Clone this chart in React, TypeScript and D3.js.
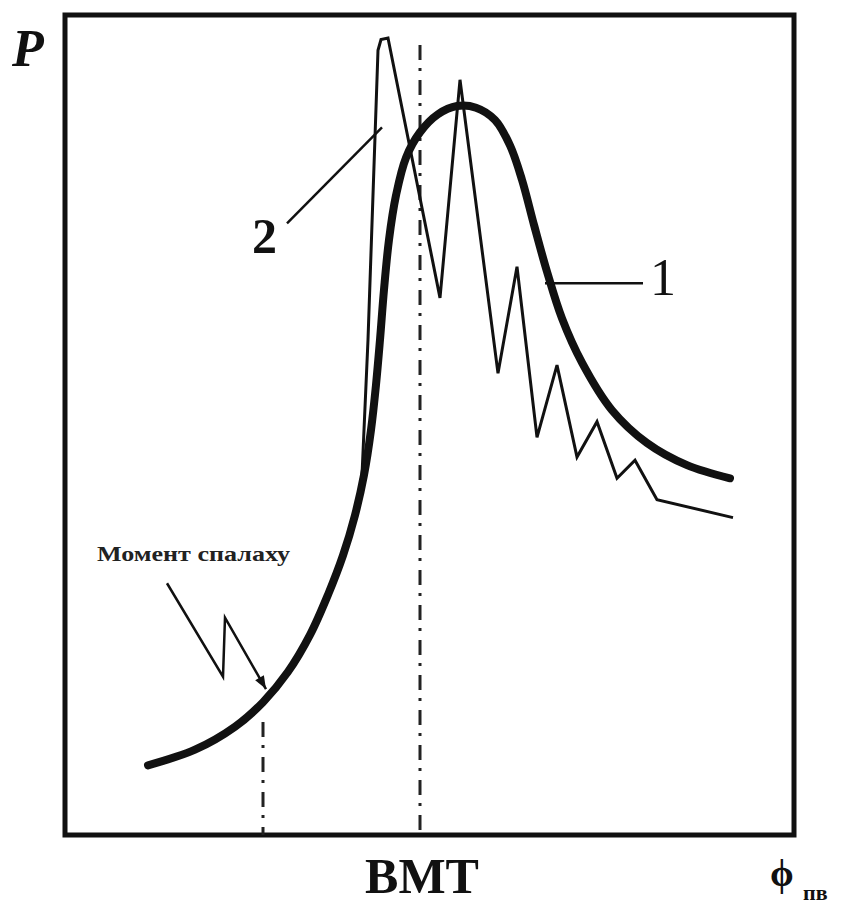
import React from 'react';
import * as d3 from 'd3';

// crank angle (deg relative to BMT) and pressure (arbitrary units)
const curve1Angle = [-27.2, -22.5, -18.5, -15.7, -13.2, -11.0, -9.2, -7.7, -6.5, -5.6, -4.9, -4.4, -4.0, -3.6, -3.1, -2.4, -1.4, 0, 1.8, 3.7, 5.6, 7.5, 9.0, 10.2, 11.4, 12.7, 14.2, 16.2, 19.2, 22.7, 26.7, 31.0];
const curve1P = [8.5, 10.4, 13.2, 16.2, 19.9, 24.4, 29.3, 34.1, 39.0, 43.9, 49.4, 54.9, 60.4, 66.5, 72.6, 78.0, 82.6, 85.7, 87.9, 88.9, 88.7, 87.2, 84.1, 79.9, 74.4, 68.7, 63.0, 57.6, 51.8, 47.8, 45.1, 43.5];

const curve2Angle = [-27.2, -22.5, -18.5, -15.7, -13.2, -11.0, -9.2, -7.7, -6.5, -5.8, -5.2, -4.2, -3.9, -3.2, 2.0, 4.0, 7.8, 9.7, 11.7, 13.7, 15.7, 17.7, 19.7, 21.5, 23.7, 31.3];
const curve2P = [8.5, 10.4, 13.2, 16.2, 19.9, 24.4, 29.3, 34.1, 39.0, 43.9, 60.4, 95.7, 97.0, 97.2, 65.5, 92.1, 56.3, 69.3, 48.5, 57.3, 46.1, 50.4, 43.5, 45.7, 40.9, 38.7];

const ignitionAngle = -15.7;
const bmtAngle = 0;

// annotation paths (same units)
const label2Leader: [number, number][] = [[-13.3, 74.6], [-3.8, 86.3]];
const label1Leader: [number, number][] = [[12.5, 67.3], [22.3, 67.3]];
const ignitionArrow: [number, number][] = [[-25.3, 30.7], [-19.7, 19.3], [-19.5, 26.5], [-15.4, 17.8]];

const W = 853;
const H = 908;
const box = { left: 65, top: 15, right: 794, bottom: 835 };

const x = d3.scaleLinear().domain([-35.5, 37.4]).range([box.left, box.right]);
const y = d3.scaleLinear().domain([0, 100]).range([box.bottom, box.top]);

const App = () => {
  const pts1 = curve1Angle.map((a, i) => [a, curve1P[i]] as [number, number]);
  const pts2 = curve2Angle.map((a, i) => [a, curve2P[i]] as [number, number]);

  const smooth = d3.line<[number, number]>()
    .x(d => x(d[0]))
    .y(d => y(d[1]))
    .curve(d3.curveCatmullRom.alpha(0.5));
  const straight = d3.line<[number, number]>()
    .x(d => x(d[0]))
    .y(d => y(d[1]));

  // arrowhead for ignition pointer
  const n = ignitionArrow.length;
  const [ax, ay] = [x(ignitionArrow[n - 1][0]), y(ignitionArrow[n - 1][1])];
  const [bx, by] = [x(ignitionArrow[n - 2][0]), y(ignitionArrow[n - 2][1])];
  const ang = Math.atan2(ay - by, ax - bx);
  const hl = 13, hw = 5;
  const head = [
    [ax, ay],
    [ax - hl * Math.cos(ang) + hw * Math.sin(ang), ay - hl * Math.sin(ang) - hw * Math.cos(ang)],
    [ax - hl * Math.cos(ang) - hw * Math.sin(ang), ay - hl * Math.sin(ang) + hw * Math.cos(ang)],
  ].map(p => p.join(',')).join(' ');

  const serif = '"Liberation Serif", "DejaVu Serif", serif';

  return (
    <svg width={W} height={H} style={{ position: 'absolute', top: 0, left: 0, background: '#fff' }}>
      <rect x={0} y={0} width={W} height={H} fill="#fff" />
      {/* frame */}
      <rect x={box.left} y={box.top} width={box.right - box.left} height={box.bottom - box.top}
        fill="none" stroke="#111" strokeWidth={5} />

      {/* dash-dot markers */}
      <line x1={x(ignitionAngle)} x2={x(ignitionAngle)} y1={722} y2={box.bottom}
        stroke="#222" strokeWidth={3} strokeDasharray="15,8,3,9" />
      <line x1={x(bmtAngle)} x2={x(bmtAngle)} y1={45} y2={box.bottom}
        stroke="#222" strokeWidth={3} strokeDasharray="15,8,3,9" />

      {/* curve 2 (with knock) */}
      <path d={straight(pts2) || ''} fill="none" stroke="#111" strokeWidth={3} strokeLinejoin="miter" />
      {/* curve 1 (normal) */}
      <path d={smooth(pts1) || ''} fill="none" stroke="#111" strokeWidth={8} strokeLinecap="round" />

      {/* leaders */}
      <path d={straight(label2Leader) || ''} fill="none" stroke="#111" strokeWidth={2.5} />
      <path d={straight(label1Leader) || ''} fill="none" stroke="#111" strokeWidth={2.5} />
      <path d={straight(ignitionArrow) || ''} fill="none" stroke="#111" strokeWidth={2.5} />
      <polygon points={head} fill="#111" />

      {/* texts */}
      <text x={12} y={66} fontFamily={serif} fontWeight="bold" fontStyle="italic" fontSize={52} fill="#111">P</text>
      <text x={x(-16.8)} y={y(71.0)} fontFamily={serif} fontWeight="bold" fontSize={50} fill="#111">2</text>
      <text x={x(23.0)} y={y(65.9)} fontFamily={serif} fontSize={52} fill="#111">1</text>
      <text x={97} y={561} fontFamily={serif} fontWeight="bold" fontSize={21} textLength={193} lengthAdjust="spacingAndGlyphs" fill="#222">Момент спалаху</text>
      <text x={422} y={893} textAnchor="middle" fontFamily={serif} fontWeight="bold" fontSize={50} fill="#111">BMT</text>
      <text x={770} y={886} fontFamily={serif} fontWeight="bold" fontSize={38} fill="#111">ϕ</text>
      <text x={803} y={900} fontFamily={serif} fontWeight="bold" fontSize={22} fill="#111">пв</text>
    </svg>
  );
};

export default App;
